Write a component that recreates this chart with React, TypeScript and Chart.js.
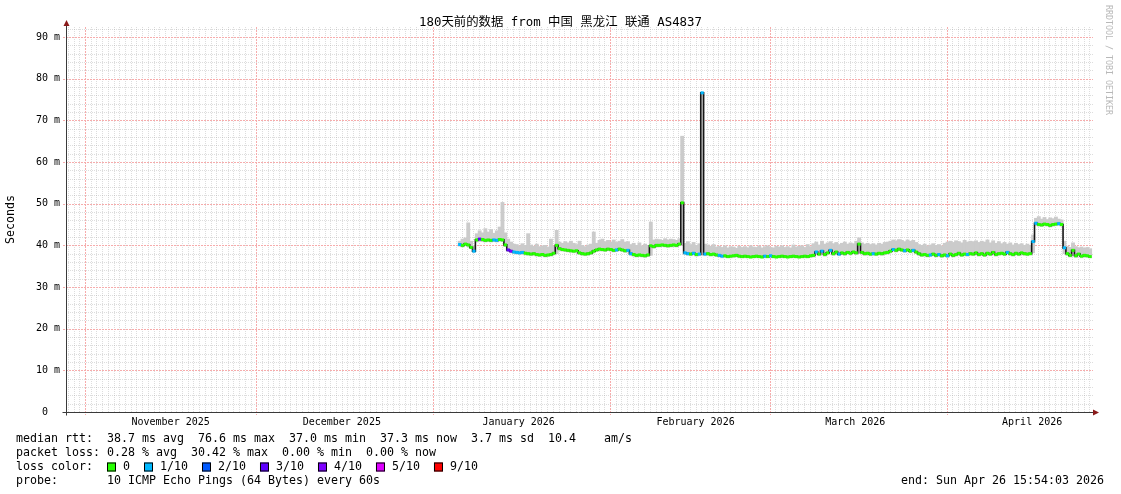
import React, { useEffect, useRef } from "react";
import { Chart, registerables } from "chart.js";

Chart.register(...registerables);

// ---------- text ----------
const TITLE = "180天前的数据 from 中国 黑龙江 联通 AS4837";
const Y_TITLE = "Seconds";
const WATERMARK = "RRDTOOL / TOBI OETIKER";
const STAT_LINES = [
  "median rtt:  38.7 ms avg  76.6 ms max  37.0 ms min  37.3 ms now  3.7 ms sd  10.4    am/s",
  "packet loss: 0.28 % avg  30.42 % max  0.00 % min  0.00 % now",
  "loss color:",
  "probe:       10 ICMP Echo Pings (64 Bytes) every 60s",
];
const END_TEXT = "end: Sun Apr 26 15:54:03 2026";

// ---------- axes ----------
// x = days since the window start (Tue Oct 28 2025 15:54:03)
const X_MAX_DAYS = 180;
const Y_MAX_MS = 92.4;
const monthStartDays = [3.3375, 33.3375, 64.3375, 95.3375, 123.3375, 154.3375];
const monthLabelDays = [18.3375, 48.3375, 79.3375, 110.3375, 138.3375, 169.3375];
const monthLabels = ["November 2025", "December 2025", "January 2026", "February 2026", "March 2026", "April 2026"];
const yMajorTicks = [0, 10, 20, 30, 40, 50, 60, 70, 80, 90];
const yTickLabels = ["0  ", "10 m", "20 m", "30 m", "40 m", "50 m", "60 m", "70 m", "80 m", "90 m"];

// ---------- loss legend ----------
const lossLevels = [0, 1, 2, 3, 4, 5, 9];
const lossLabels = ["0", "1/10", "2/10", "3/10", "4/10", "5/10", "9/10"];
const lossColors = ["#26ff00", "#00b8ff", "#0059ff", "#5e00ff", "#7e00ff", "#dd00ff", "#ff0000"];

// ---------- data: one sample every half day, from day 69 ----------
const FIRST_SAMPLE_DAY = 69;
const SAMPLE_STEP_DAYS = 0.5;

const medianMs = [
  40.2, 40.0, 40.3, 40.1, 39.5, 38.6, 41.3, 41.5, 41.4, 41.2,
  41.3, 41.2, 41.3, 41.2, 41.4, 41.3, 40.1, 38.9, 38.6, 38.4,
  38.3, 38.2, 38.3, 38.1, 38.0, 37.9, 38.0, 37.8, 37.7, 37.8,
  37.6, 37.7, 37.8, 38.1, 40.0, 39.2, 39.0, 38.9, 38.8, 38.7,
  38.6, 38.7, 38.2, 38.0, 37.9, 38.0, 38.2, 38.6, 38.9, 39.1,
  39.0, 38.9, 39.1, 39.0, 38.8, 38.9, 39.1, 38.9, 38.7, 38.8,
  38.0, 37.8, 37.6, 37.7, 37.6, 37.5, 37.7, 39.9, 39.7, 40.0,
  40.0, 40.1, 40.0, 39.9, 40.0, 40.1, 40.0, 40.3, 50.2, 38.2,
  38.0, 37.9, 38.1, 37.8, 37.9, 76.6, 37.9, 38.0, 37.8, 37.9,
  37.7, 37.6, 37.4, 37.5, 37.3, 37.4, 37.5, 37.6, 37.4, 37.3,
  37.4, 37.3, 37.2, 37.3, 37.4, 37.3, 37.2, 37.4, 37.3, 37.5,
  37.3, 37.2, 37.3, 37.4, 37.3, 37.2, 37.3, 37.4, 37.3, 37.2,
  37.3, 37.4, 37.3, 37.5, 37.6, 38.4, 37.9, 38.6, 37.8, 38.2,
  38.8, 38.0, 38.4, 37.9, 38.2, 38.0, 38.3, 38.1, 38.4, 38.2,
  40.3, 38.3, 38.0, 38.1, 37.9, 38.0, 37.9, 38.1, 38.0, 38.2,
  38.3, 38.6, 39.0, 38.8, 39.1, 38.9, 38.7, 38.9, 38.6, 38.8,
  38.4, 38.0, 37.7, 37.8, 37.6, 37.7, 37.9, 37.6, 37.8, 37.5,
  37.7, 37.5, 37.9, 37.6, 37.8, 38.1, 37.7, 37.9, 37.8, 38.0,
  37.9, 38.2, 37.8, 38.0, 37.7, 38.1, 37.9, 38.3, 37.8, 38.0,
  38.1, 37.9, 38.3, 38.0, 37.8, 38.1, 37.9, 38.2, 38.0, 37.9,
  38.0, 40.9, 45.3, 45.0, 44.9, 45.1, 45.0, 44.8, 45.0, 45.1,
  45.2, 45.0, 39.4, 38.0, 37.6, 38.8, 37.5, 37.9, 37.4, 37.6, 37.5, 37.3,
];

const smokeHiMs = [
  41.0, 41.5, 41.8, 45.4, 41.0, 39.8, 42.8, 43.5, 43.0, 44.0,
  43.2, 43.8, 42.9, 43.5, 44.4, 50.3, 43.0, 41.5, 40.8, 40.3,
  40.2, 39.9, 40.4, 40.0, 42.8, 40.1, 39.8, 40.3, 39.7, 39.9,
  40.0, 39.6, 41.5, 39.8, 43.6, 40.8, 40.5, 40.9, 40.6, 41.0,
  40.5, 40.2, 41.0, 40.0, 39.7, 40.1, 40.3, 43.2, 40.5, 41.2,
  41.5, 40.9, 41.2, 40.8, 41.3, 40.7, 41.0, 41.4, 40.8, 40.9,
  40.2, 40.5, 40.0, 40.6, 39.9, 40.3, 40.0, 45.6, 41.3, 41.5,
  41.4, 41.2, 41.6, 41.3, 41.5, 41.4, 41.2, 41.6, 66.2, 40.5,
  40.9, 40.2, 40.7, 40.0, 40.4, 76.6, 40.3, 40.1, 39.8, 40.2,
  39.6, 39.8, 39.5, 39.9, 39.4, 39.7, 39.6, 39.3, 39.8, 39.5,
  39.7, 39.4, 39.9, 39.6, 39.5, 39.8, 39.4, 39.7, 39.9, 39.5,
  39.4, 39.8, 39.6, 39.9, 39.5, 39.7, 39.4, 40.1, 39.6, 39.8,
  39.9, 39.5, 40.2, 39.7, 40.4, 40.8, 40.1, 41.0, 40.3, 40.6,
  40.9, 40.4, 40.7, 40.2, 40.5, 40.8, 40.3, 40.6, 40.4, 41.0,
  41.8, 40.6, 40.3, 40.5, 40.2, 40.4, 40.1, 40.5, 40.3, 40.7,
  40.8, 41.0, 41.3, 41.1, 41.4, 41.2, 40.9, 41.3, 41.0, 41.2,
  40.7, 40.2, 40.0, 40.3, 39.9, 40.1, 40.4, 40.0, 40.2, 39.8,
  40.5, 40.8, 41.0, 40.7, 41.1, 40.9, 40.6, 41.2, 40.8, 41.0,
  40.9, 41.1, 40.7, 41.0, 40.8, 41.3, 40.6, 41.1, 40.5, 40.9,
  40.4, 40.7, 40.3, 40.6, 40.1, 40.5, 40.2, 40.4, 40.0, 40.3,
  40.0, 42.5, 46.5, 46.9, 46.3, 46.7, 46.2, 46.6, 46.4, 46.8,
  46.3, 46.1, 41.0, 39.8, 39.5, 40.6, 39.7, 39.4, 39.6, 39.3, 39.5, 39.2,
];

const smokeLoMs = [
  39.8, 39.6, 39.9, 39.7, 39.2, 38.3, 40.8, 41.0, 40.9, 40.8,
  40.9, 40.8, 40.9, 40.8, 41.0, 40.9, 39.7, 38.5, 38.2, 38.0,
  37.9, 37.8, 37.9, 37.7, 37.6, 37.5, 37.6, 37.4, 37.3, 37.4,
  37.2, 37.3, 37.4, 37.7, 38.0, 38.8, 38.6, 38.5, 38.4, 38.3,
  38.2, 38.3, 37.8, 37.6, 37.5, 37.6, 37.8, 38.2, 38.5, 38.7,
  38.6, 38.5, 38.7, 38.6, 38.4, 38.5, 38.7, 38.5, 38.3, 38.4,
  37.6, 37.4, 37.2, 37.3, 37.2, 37.1, 37.3, 37.6, 39.3, 39.6,
  39.6, 39.7, 39.6, 39.5, 39.6, 39.7, 39.6, 39.9, 40.0, 37.8,
  37.6, 37.5, 37.7, 37.4, 37.5, 37.6, 37.5, 37.6, 37.4, 37.5,
  37.3, 37.2, 37.0, 37.1, 37.0, 37.0, 37.1, 37.2, 37.0, 37.0,
  37.0, 37.0, 37.0, 37.0, 37.0, 37.0, 37.0, 37.0, 37.0, 37.1,
  37.0, 37.0, 37.0, 37.0, 37.0, 37.0, 37.0, 37.0, 37.0, 37.0,
  37.0, 37.0, 37.0, 37.1, 37.2, 37.9, 37.5, 38.1, 37.4, 37.8,
  38.3, 37.6, 38.0, 37.5, 37.8, 37.6, 37.9, 37.7, 38.0, 37.8,
  38.0, 37.9, 37.6, 37.7, 37.5, 37.6, 37.5, 37.7, 37.6, 37.8,
  37.9, 38.2, 38.6, 38.4, 38.7, 38.5, 38.3, 38.5, 38.2, 38.4,
  38.0, 37.6, 37.3, 37.4, 37.2, 37.3, 37.5, 37.2, 37.4, 37.1,
  37.3, 37.1, 37.5, 37.2, 37.4, 37.7, 37.3, 37.5, 37.4, 37.6,
  37.5, 37.8, 37.4, 37.6, 37.3, 37.7, 37.5, 37.9, 37.4, 37.6,
  37.7, 37.5, 37.9, 37.6, 37.4, 37.7, 37.5, 37.8, 37.6, 37.5,
  37.7, 38.2, 44.8, 44.6, 44.5, 44.7, 44.6, 44.4, 44.6, 44.7,
  44.8, 44.6, 38.0, 37.6, 37.2, 37.5, 37.1, 37.5, 37.0, 37.2, 37.1, 37.0,
];

// samples that had packet loss (sample index, lost pings out of 10)
const lossSampleIndex = [0, 5, 7, 12, 13, 17, 18, 19, 20, 21, 22, 55, 59, 60, 79, 80, 82, 84, 85, 86, 91, 92, 107, 109, 125, 127, 130, 133, 145, 152, 156, 159, 165, 168, 171, 178, 192, 201, 202, 210, 212];
const lossSampleLevel = [1, 1, 3, 1, 1, 3, 4, 1, 1, 1, 1, 1, 1, 1, 1, 1, 1, 1, 1, 1, 1, 1, 1, 1, 1, 1, 1, 1, 1, 1, 1, 1, 1, 1, 1, 1, 1, 1, 1, 1, 1];

// ---------- styles ----------
const MONO = "'DejaVu Sans Mono', monospace";
const MINOR_GRID = "rgba(150,150,150,0.32)";
const MAJOR_GRID = "rgb(246,172,172)";
const AXIS_COLOR = "#3a3a3a";
const ARROW_COLOR = "#8a1a1a";
const SMOKE_COLOR = "#cbcbcb";

const sampleDays = medianMs.map((_, i) => FIRST_SAMPLE_DAY + i * SAMPLE_STEP_DAYS);
const sampleLoss = medianMs.map(() => 0);
lossSampleIndex.forEach((idx, k) => {
  sampleLoss[idx] = lossSampleLevel[k];
});
const lossColorOf = (lvl: number) => lossColors[Math.max(0, lossLevels.indexOf(lvl))];

const rrdPlugin = {
  id: "rrdDecor",
  beforeDatasetsDraw(chart: any) {
    const { ctx, chartArea: a, scales } = chart;
    const x = scales.x;
    const y = scales.y;
    ctx.save();
    ctx.lineWidth = 1;
    ctx.setLineDash([1, 1]);
    // minor grid
    ctx.strokeStyle = MINOR_GRID;
    ctx.beginPath();
    for (let d = 0.3375; d < X_MAX_DAYS; d += 1) {
      if (monthStartDays.some((m) => Math.abs(m - d) < 0.01)) continue;
      const px = Math.round(x.getPixelForValue(d)) + 0.5;
      ctx.moveTo(px, a.top);
      ctx.lineTo(px, a.bottom);
    }
    for (let v = 2; v <= Y_MAX_MS; v += 2) {
      if (v % 10 === 0) continue;
      const py = Math.round(y.getPixelForValue(v)) + 0.5;
      ctx.moveTo(a.left, py);
      ctx.lineTo(a.right, py);
    }
    ctx.stroke();
    // major grid
    ctx.setLineDash([2, 1]);
    ctx.strokeStyle = MAJOR_GRID;
    ctx.beginPath();
    monthStartDays.forEach((d) => {
      const px = Math.round(x.getPixelForValue(d)) + 0.5;
      ctx.moveTo(px, a.top);
      ctx.lineTo(px, a.bottom + 3);
    });
    yMajorTicks.forEach((v) => {
      if (v === 0) return;
      const py = Math.round(y.getPixelForValue(v)) + 0.5;
      ctx.moveTo(a.left - 3, py);
      ctx.lineTo(a.right, py);
    });
    ctx.stroke();
    ctx.restore();
  },
  afterDatasetsDraw(chart: any) {
    const { ctx, chartArea: a } = chart;
    ctx.save();
    ctx.setLineDash([]);
    ctx.strokeStyle = AXIS_COLOR;
    ctx.lineWidth = 1;
    const ax = Math.round(a.left) + 0.5;
    const ay = Math.round(a.bottom) + 0.5;
    ctx.beginPath();
    ctx.moveTo(ax, ay + 3);
    ctx.lineTo(ax, a.top - 4);
    ctx.moveTo(ax - 4, ay);
    ctx.lineTo(a.right + 2, ay);
    ctx.stroke();
    ctx.fillStyle = ARROW_COLOR;
    ctx.beginPath();
    ctx.moveTo(ax, a.top - 7);
    ctx.lineTo(ax - 3, a.top - 1);
    ctx.lineTo(ax + 3, a.top - 1);
    ctx.closePath();
    ctx.fill();
    ctx.beginPath();
    ctx.moveTo(a.right + 6, ay);
    ctx.lineTo(a.right, ay - 3);
    ctx.lineTo(a.right, ay + 3);
    ctx.closePath();
    ctx.fill();
    ctx.restore();
  },
  afterDraw(chart: any) {
    const { ctx } = chart;
    ctx.save();
    ctx.fillStyle = "#000";
    ctx.textBaseline = "middle";
    // title
    ctx.font = `12.4px 'DejaVu Sans Mono', 'Noto Sans CJK SC', sans-serif`;
    ctx.textAlign = "center";
    ctx.fillText(TITLE, 560.5, 22.5);
    // stats
    ctx.font = `11.63px ${MONO}`;
    ctx.textAlign = "left";
    const rows = [439, 453, 467, 481];
    STAT_LINES.forEach((t, i) => ctx.fillText(t, 16, rows[i]));
    // loss legend
    let bx = 107;
    lossLabels.forEach((lab, i) => {
      ctx.fillStyle = lossColors[i];
      ctx.fillRect(bx, rows[2] - 4.5, 9, 9);
      ctx.strokeStyle = "#000";
      ctx.lineWidth = 1;
      ctx.strokeRect(bx + 0.5, rows[2] - 4, 8, 8);
      ctx.fillStyle = "#000";
      ctx.fillText(lab, bx + 16, rows[2]);
      bx += 16 + ctx.measureText(lab).width + 14;
    });
    ctx.textAlign = "right";
    ctx.fillText(END_TEXT, 1104, rows[3]);
    // watermark
    ctx.translate(1108, 5);
    ctx.rotate(Math.PI / 2);
    ctx.textAlign = "left";
    ctx.fillStyle = "#b8b8b8";
    ctx.font = `8.3px ${MONO}`;
    ctx.fillText(WATERMARK, 0, 0);
    ctx.restore();
  },
};

export default function App() {
  const ref = useRef<HTMLCanvasElement>(null);
  useEffect(() => {
    const points = sampleDays.map((d, i) => ({ x: d, y: medianMs[i] }));
    const smoke = sampleDays.map((d, i) => ({ x: d, y: [smokeLoMs[i], smokeHiMs[i]] }));
    const chart = new Chart(ref.current as HTMLCanvasElement, {
      type: "line",
      data: {
        datasets: [
          {
            type: "line",
            label: "median loss colour",
            data: points,
            showLine: false,
            pointStyle: "line",
            pointRadius: 1.6,
            pointHoverRadius: 1.6,
            pointBorderWidth: 3,
            pointHoverBorderWidth: 3,
            pointBorderColor: (c: any) => lossColorOf(sampleLoss[c.dataIndex] || 0),
            pointBackgroundColor: (c: any) => lossColorOf(sampleLoss[c.dataIndex] || 0),
            order: 0,
          } as any,
          {
            type: "line",
            label: "median rtt",
            data: points,
            borderColor: "#161616",
            borderWidth: 1.6,
            stepped: "middle",
            pointRadius: 0,
            fill: false,
            order: 1,
          } as any,
          {
            type: "bar",
            label: "smoke",
            data: smoke,
            backgroundColor: SMOKE_COLOR,
            borderWidth: 0,
            barThickness: 3.2,
            order: 2,
          } as any,
        ],
      },
      options: {
        responsive: false,
        animation: false,
        devicePixelRatio: 1,
        events: [],
        layout: { padding: { left: 0, right: 28, top: 27, bottom: 0 } },
        plugins: {
          legend: { display: false },
          title: { display: false },
          tooltip: { enabled: false },
        },
        scales: {
          x: {
            type: "linear",
            min: 0,
            max: X_MAX_DAYS,
            offset: false,
            bounds: "data",
            grid: { display: false, drawTicks: false },
            border: { display: false },
            afterBuildTicks: (s: any) => {
              s.ticks = monthLabelDays.map((v) => ({ value: v }));
            },
            afterFit: (s: any) => {
              s.height = 82;
            },
            ticks: {
              autoSkip: false,
              maxRotation: 0,
              minRotation: 0,
              padding: 4,
              color: "#000",
              font: { family: MONO, size: 10 },
              callback: (_v: any, i: number) => monthLabels[i],
            },
          },
          y: {
            type: "linear",
            min: 0,
            max: Y_MAX_MS,
            bounds: "data",
            grid: { display: false, drawTicks: false },
            border: { display: false },
            afterBuildTicks: (s: any) => {
              s.ticks = yMajorTicks.map((v) => ({ value: v }));
            },
            afterFit: (s: any) => {
              s.width = 66;
            },
            title: {
              display: true,
              text: Y_TITLE,
              color: "#000",
              font: { family: MONO, size: 11.6 },
              padding: { top: 4, bottom: 0 },
            },
            ticks: {
              padding: 6,
              color: "#000",
              font: { family: MONO, size: 10 },
              callback: (_v: any, i: number) => yTickLabels[i],
            },
          },
        },
      },
      plugins: [rrdPlugin],
    } as any);
    return () => chart.destroy();
  }, []);
  return (
    <div style={{ position: "absolute", left: 0, top: 0, width: 1121, height: 494, background: "#fff" }}>
      <canvas ref={ref} width={1121} height={494} style={{ display: "block" }} />
    </div>
  );
}
